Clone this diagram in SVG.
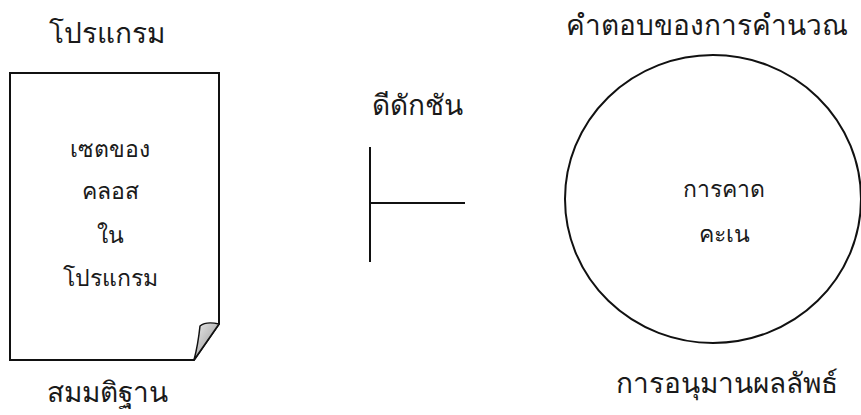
<svg xmlns="http://www.w3.org/2000/svg" width="861" height="415" viewBox="0 0 861 415">
<defs>
<style>
.t{font-family:"Noto Sans","DejaVu Sans",sans-serif;fill:#1a1a1a;text-anchor:middle}
.lbl{font-size:28px}
.in{font-size:23px}
.ln{fill:none;stroke:#111;stroke-width:2}
</style>
<linearGradient id="fold" x1="0" y1="0" x2="1" y2="1">
<stop offset="0" stop-color="#eeeeee"/>
<stop offset="0.5" stop-color="#bbbbbb"/>
<stop offset="1" stop-color="#f4f4f4"/>
</linearGradient>
</defs>
<rect width="861" height="415" fill="#ffffff"/>
<g id="program">
<path class="ln" d="M10 73 H219 V324 L194 360 H10 Z"/>
<path d="M219 324 Q206 321 200 326 Q198 345 194 360 Z" fill="url(#fold)" stroke="#111" stroke-width="1.5" stroke-linejoin="round"/>
<text class="t lbl" x="107" y="43">โปรแกรม</text>
<text class="t in" x="110" y="157">เซตของ</text>
<text class="t in" x="110" y="199">คลอส</text>
<text class="t in" x="110" y="243">ใน</text>
<text class="t in" x="110" y="286">โปรแกรม</text>
<text class="t lbl" x="107" y="402">สมมติฐาน</text>
</g>
<g id="deduction">
<text class="t lbl" x="417" y="115">ดีดักชัน</text>
</g>
<g id="answer">
<ellipse class="ln" cx="713" cy="199" rx="148" ry="144"/>
<text class="t lbl" x="707" y="35">คำตอบของการคำนวณ</text>
<text class="t in" x="724" y="197">การคาด</text>
<text class="t in" x="724" y="242">คะเน</text>
<text class="t lbl" x="727" y="393">การอนุมานผลลัพธ์</text>
</g>
<g id="connectors">
<path class="ln" d="M370 147 V262 M370 203 H465"/>
</g>
</svg>
